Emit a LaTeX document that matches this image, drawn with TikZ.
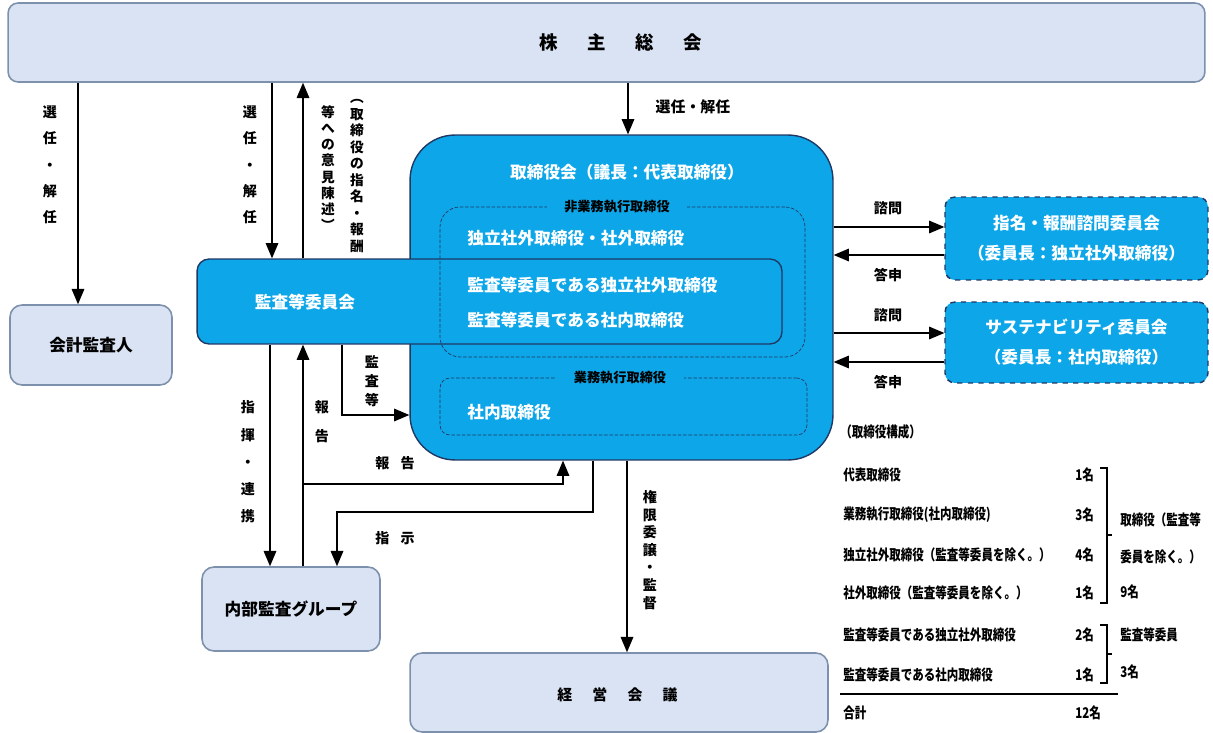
\documentclass[tikz,border=0pt]{standalone}
\usepackage{fontspec}
\setmainfont{Noto Sans CJK JP}
\usepackage{graphicx}
\usetikzlibrary{arrows}
\definecolor{lightfill}{RGB}{218,227,243}
\definecolor{lightline}{RGB}{125,145,172}
\definecolor{boardblue}{RGB}{13,166,232}
\definecolor{navy}{RGB}{31,56,100}
\newcommand{\nar}[1]{\scalebox{0.78}[1]{#1}}

\tikzset{
  lightbox/.style={draw=lightline, fill=lightfill, line width=0.9pt, rounded corners=0.24cm, font=\fontsize{9.5}{11}\selectfont\bfseries},
  bluebox/.style={draw=navy, fill=boardblue, line width=0.8pt, text=white, font=\fontsize{9.5}{11}\selectfont\bfseries},
  subbox/.style={draw=navy, dash pattern=on 2pt off 1pt, line width=0.4pt, rounded corners=0.4cm},
  arr/.style={-triangle 45, line width=1pt},
  lbl/.style={font=\fontsize{8}{10}\selectfont\bfseries, inner sep=1pt},
  tate/.style={inner sep=1pt, align=center, font=\fontsize{8}{#1}\selectfont\bfseries},
  tate/.default=15pt,
  wtxt/.style={text=white, font=\fontsize{9.5}{11}\selectfont\bfseries, inner sep=0pt, anchor=west},
  sublbl/.style={fill=boardblue, font=\fontsize{7.5}{9}\selectfont\bfseries, inner xsep=10pt, inner ysep=0pt},
  tbl/.style={font=\fontsize{8.4}{9}\selectfont\bfseries, inner sep=0pt, anchor=west},
}

\begin{document}
\begin{tikzpicture}[x=0.02cm,y=-0.02cm]
    \useasboundingbox (0,0) rectangle (1213,733);
    % boxes
    \node[lightbox, rounded corners=0.2cm, minimum width=23.94cm, minimum height=1.58cm] (gm) at (606.5,42.5) {};
    \node[lightbox, minimum width=3.24cm, minimum height=1.6cm] (kaikei) at (91,345) {会計監査人};
    \node[bluebox, rounded corners=0.9cm, minimum width=8.46cm, minimum height=6.5cm] (board) at (621.5,297.5) {};
    \node[bluebox, rounded corners=0.24cm, minimum width=11.7cm, minimum height=1.7cm] (kansa) at (489.5,301.5) {};
    \node[subbox, minimum width=7.3cm, minimum height=3cm] (nonexec) at (622.5,282) {};
    \node[subbox, rounded corners=0.2cm, minimum width=7.34cm, minimum height=1.14cm] (exec) at (623.5,406.5) {};
    \node[lightbox, minimum width=3.56cm, minimum height=1.68cm] (nai) at (291,609) {内部監査グループ};
    \node[lightbox, minimum width=8.36cm, minimum height=1.58cm] (keiei) at (619,692.5) {};
    \node[bluebox, dashed, rounded corners=0.2cm, minimum width=5.26cm, minimum height=1.66cm, align=center, font=\fontsize{9.5}{17}\selectfont\bfseries] (com1) at (1076.5,238.5) {指名・報酬諮問委員会\\（委員長：独立社外取締役）};
    \node[bluebox, dashed, rounded corners=0.2cm, minimum width=5.26cm, minimum height=1.62cm, align=center, font=\fontsize{9.5}{17}\selectfont\bfseries] (com2) at (1076.5,342.5) {サステナビリティ委員会\\（委員長：社内取締役）};

    % texts in the boxes
    \node[font=\fontsize{10.5}{12}\selectfont\bfseries] (gmtxt) at (621,42) {株\hspace{1.6em}主\hspace{1.6em}総\hspace{1.6em}会};
    \node[font=\fontsize{8.5}{10}\selectfont\bfseries] (keieitxt) at (617.5,695) {経\hspace{1.35em}営\hspace{1.35em}会\hspace{1.35em}議};
    \node[wtxt, anchor=center] (boardtxt) at (627,172) {取締役会（議長：代表取締役）};
    \node[sublbl] (nonexectxt) at (617,207) {非業務執行取締役};
    \node[sublbl] (exectxt) at (620,378) {業務執行取締役};
    \node[wtxt] (outtxt) at (467,238) {独立社外取締役・社外取締役};
    \node[wtxt] (ac1txt) at (467,285) {監査等委員である独立社外取締役};
    \node[wtxt] (ac2txt) at (467,320) {監査等委員である社内取締役};
    \node[wtxt] (intxt) at (467,412) {社内取締役};
    \node[wtxt, anchor=center] (kansatxt) at (305,302) {監査等委員会};

    % arrows
    \draw[arr] (gm.south -| 78,0) -- (kaikei.north -| 78,0);
    \draw[arr] (gm.south -| 272,0) -- (kansa.north -| 272,0);
    \draw[arr] (kansa.north -| 303,0) -- (gm.south -| 303,0);
    \draw[arr] (gm.south -| 628,0) -- (board.north -| 628,0);
    \draw[arr] (kansa.south -| 270,0) -- (nai.north -| 270,0);
    \draw[arr] (nai.north -| 303,0) -- (kansa.south -| 303,0);
    \draw[arr] (kansa.south -| 342,0) |- (board.west |- 0,415);
    \coordinate (rep) at (303,484);
    \draw[arr] (rep) -| (board.south -| 563,0);
    \draw[arr] (board.south -| 593,0) |- (337,512) -- (nai.north -| 337,0);
    \draw[arr] (board.south -| 627,0) -- (keiei.north -| 627,0);
    \draw[arr] (board.east |- 0,227) -- (com1.west |- 0,227);
    \draw[arr] (com1.west |- 0,255) -- (board.east |- 0,255);
    \draw[arr] (board.east |- 0,333) -- (com2.west |- 0,333);
    \draw[arr] (com2.west |- 0,362) -- (board.east |- 0,362);

    % arrow labels
    \node[tate] (l1) at (50,165) {選\\任\\・\\解\\任};
    \node[tate] (l2) at (250,165) {選\\任\\・\\解\\任};
    \node[tate=9.4pt, font=\fontsize{7.8}{9.4}\selectfont\bfseries] (l3a) at (357,176) {︵\\取\\締\\役\\の\\指\\名\\・\\報\\酬};
    \node[tate=9.2pt, font=\fontsize{7.8}{9.2}\selectfont\bfseries] (l3b) at (328,168) {等\\へ\\の\\意\\見\\陳\\述\\︶};
    \node[lbl, font=\fontsize{8.5}{10}\selectfont\bfseries] (l4) at (693,107) {選任・解任};
    \node[lbl] (l5) at (888,208) {諮問};
    \node[lbl] (l6) at (888,275) {答申};
    \node[lbl] (l7) at (888,315) {諮問};
    \node[lbl] (l8) at (888,382) {答申};
    \node[tate=15.5pt] (l9) at (248,462) {指\\揮\\・\\連\\携};
    \node[tate=16.5pt] (l10) at (322,422) {報\\告};
    \node[tate=10.8pt] (l11) at (372,381) {監\\査\\等};
    \node[lbl] (l12) at (395,463) {報\hspace{0.8em}告};
    \node[lbl] (l13) at (395,538) {指\hspace{0.8em}示};
    \node[tate=10pt] (l14) at (650,550) {権\\限\\委\\譲\\・\\監\\督};

    % board members
    \node[tbl] (head) at (840,432) {\nar{（取締役構成）}};
    \foreach \y/\a/\b [count=\i] in {475/代表取締役/1名, 515/業務執行取締役(社内取締役)/3名, 555/独立社外取締役（監査等委員を除く。）/4名, 593/社外取締役（監査等委員を除く。）/1名, 635/監査等委員である独立社外取締役/2名, 675/監査等委員である社内取締役/1名, 713/合計/12名}{
        \node[tbl] (row\i) at (843,\y) {\nar{\a}};
        \node[tbl] (num\i) at (1075,\y) {\nar{\b}};
    }
    \draw[line width=1pt] (840,694) -- (1118,694);
    \draw[line width=0.6pt] (1100,468) -- (1107,468) -- (1107,603) -- (1100,603) (1107,535) -- (1112,535);
    \draw[line width=0.6pt] (1100,625) -- (1107,625) -- (1107,683) -- (1100,683) (1107,654) -- (1112,654);
    \node[tbl] (g1a) at (1120,520) {\nar{取締役（監査等}};
    \node[tbl] (g1b) at (1120,557) {\nar{委員を除く。）}};
    \node[tbl] (g1c) at (1120,592) {\nar{9名}};
    \node[tbl] (g2a) at (1120,635) {\nar{監査等委員}};
    \node[tbl] (g2b) at (1120,672) {\nar{3名}};
\end{tikzpicture}
\end{document}
